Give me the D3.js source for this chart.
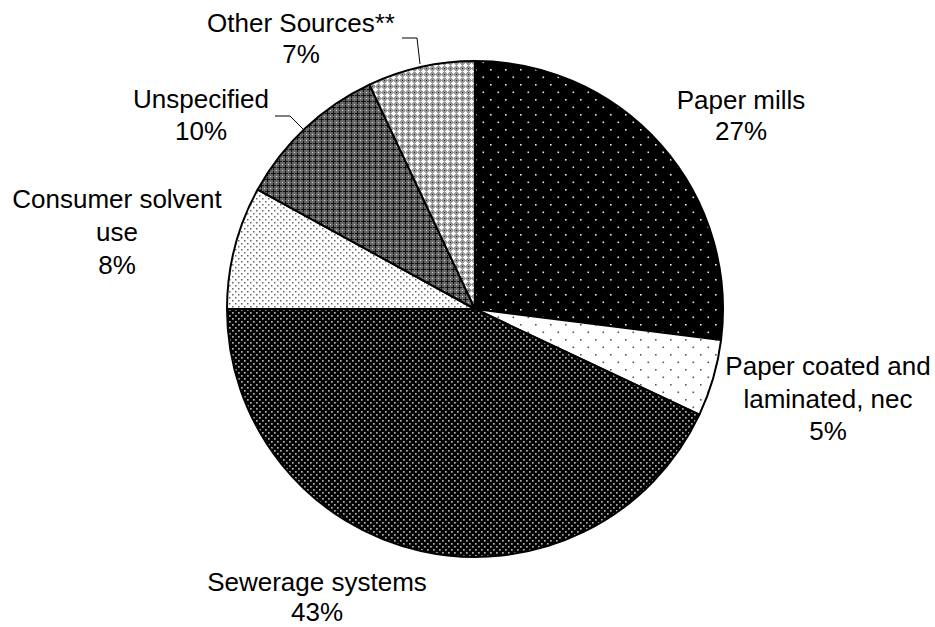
<!DOCTYPE html>
<html><head><meta charset="utf-8">
<script src="https://cdn.jsdelivr.net/npm/d3@7"></script>
<style>body{margin:0;background:#fff}svg{display:block}</style>
</head><body>
<svg id="chart" width="935" height="627"></svg>
<script>
const categories = ["Paper mills","Paper coated and laminated, nec","Sewerage systems","Consumer solvent use","Unspecified","Other Sources**"];
const values = [27,5,43,8,10,7];
const labelLines = [["Paper mills","27%"],["Paper coated and","laminated, nec","5%"],["Sewerage systems","43%"],["Consumer solvent","use","8%"],["Unspecified","10%"],["Other Sources**","7%"]];

const svg = d3.select("#chart");
const cx = 475, cy = 309, R = 248;
const defs = svg.append("defs");

function dotPattern(id, size, bg, fg, r, offsets){
  const p = defs.append("pattern").attr("id", id).attr("patternUnits","userSpaceOnUse")
    .attr("width", size[0]).attr("height", size[1]);
  p.append("rect").attr("width", size[0]).attr("height", size[1]).attr("fill", bg);
  offsets.forEach(o => p.append("rect").attr("x", o[0]).attr("y", o[1]).attr("width", r).attr("height", r).attr("fill", fg));
  return p;
}
dotPattern("p0",[15,15],"#000","#e8e8e8",1.6,[[0,0],[7.5,7.5]]);
dotPattern("p1",[15,15],"#fff","#555",1.6,[[0,0],[7.5,7.5]]);
dotPattern("p2",[6,6],"#000","#b0b0b0",1.7,[[0,0],[3,3]]);
dotPattern("p3",[6,6],"#fff","#666",1.5,[[0,0],[3,3]]);
// unspecified: dark crosshatch
{
  const p = defs.append("pattern").attr("id","p4").attr("patternUnits","userSpaceOnUse").attr("width",6).attr("height",6);
  p.append("rect").attr("width",6).attr("height",6).attr("fill","#666");
  p.append("rect").attr("x",0).attr("y",2).attr("width",5).attr("height",1).attr("fill","#111");
  p.append("rect").attr("x",2).attr("y",0).attr("width",1).attr("height",5).attr("fill","#111");
  p.append("rect").attr("x",5).attr("y",5).attr("width",1).attr("height",1).attr("fill","#ddd");
}
// other sources: light crosshatch
{
  const p = defs.append("pattern").attr("id","p5").attr("patternUnits","userSpaceOnUse").attr("width",6).attr("height",6);
  p.append("rect").attr("width",6).attr("height",6).attr("fill","#999");
  p.append("rect").attr("x",0).attr("y",2).attr("width",5).attr("height",1).attr("fill","#fafafa");
  p.append("rect").attr("x",2).attr("y",0).attr("width",1).attr("height",5).attr("fill","#fafafa");
  p.append("rect").attr("x",1).attr("y",1).attr("width",3).attr("height",3).attr("fill","#fafafa");
  p.append("rect").attr("x",5).attr("y",5).attr("width",1).attr("height",1).attr("fill","#222");
}

const pie = d3.pie().sort(null).value(d => d)(values);
const arc = d3.arc().innerRadius(0).outerRadius(R);
const g = svg.append("g").attr("transform", `translate(${cx},${cy})`);
g.selectAll("path").data(pie).join("path")
  .attr("d", arc).attr("fill", (d,i) => `url(#p${i})`)
  .attr("stroke","#000").attr("stroke-width",2).attr("stroke-linejoin","round");

// label positions (centre x, first baseline y)
const labelPos = [[741,109],[828,375],[317,591],[117,208],[201,108],[301,32]];
const lh = [31,32.5,30,33,32,31];
labelLines.forEach((lines,i) => {
  const t = svg.append("text").attr("text-anchor","middle")
    .attr("font-family","Liberation Sans, Arial, sans-serif").attr("font-size",26).attr("fill","#000");
  lines.forEach((s,j) => t.append("tspan").attr("x", labelPos[i][0]).attr("y", labelPos[i][1] + j*lh[i]).text(s));
});

// leader lines
const leaders = [[[402,38],[417,38],[420,64]],[[275,116],[290,116],[304,130]]];
leaders.forEach(pts => svg.append("path").attr("d", d3.line()(pts)).attr("fill","none").attr("stroke","#000").attr("stroke-width",1));
</script>
</body></html>
